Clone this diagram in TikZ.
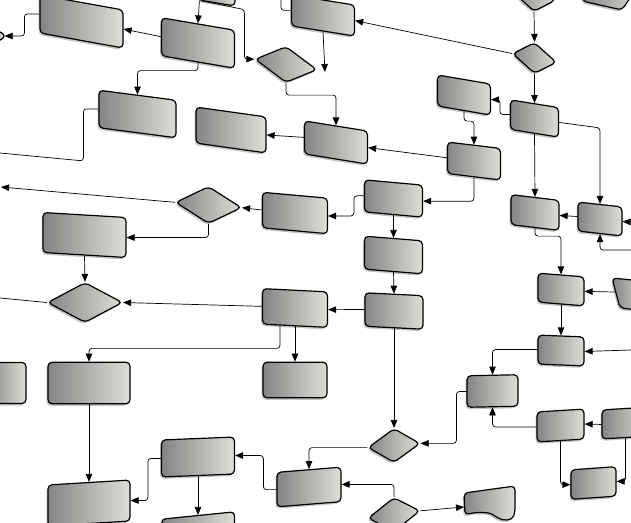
\documentclass[tikz,border=0pt]{standalone}
\usepackage{tikz}
\usetikzlibrary{arrows.meta,shapes.geometric,shadows,calc}
\definecolor{slate}{RGB}{132,133,131}
\definecolor{silver}{RGB}{222,222,216}

\tikzset{
  blk/.style={draw=black, line width=1.2pt, rounded corners=4pt, inner sep=0pt,
              left color=slate, right color=silver,
              drop shadow={shadow xshift=-1.5pt, shadow yshift=-2pt, opacity=0.45}},
  dcs/.style={blk, diamond},
  flow/.style={line width=0.7pt, rounded corners=3pt, -{Triangle[length=8pt,width=6.5pt]}},
  wire/.style={line width=0.7pt, rounded corners=3pt}
}

\begin{document}
\begin{tikzpicture}[x=1pt,y=-1pt]
\useasboundingbox (0,0) rectangle (631,522);
\clip (0,0) rectangle (631,522);
\fill[white] (0,0) rectangle (631,522);

% top rows
\node[blk, minimum width=36pt, minimum height=30pt,   yslant=-.16] (A0) at (217,-12)    {};
\node[blk, minimum width=83pt, minimum height=38pt,   yslant=-.18] (A1) at (81.5,21.5)  {};
\node[blk, minimum width=73pt, minimum height=38pt,   yslant=-.17] (A2) at (198,43)     {};
\node[blk, minimum width=63pt, minimum height=31pt,   yslant=-.16] (C1) at (323,15.5)   {};
\node[dcs, minimum width=43pt, minimum height=31pt,   yslant=-.20] (D0) at (534,-4)     {};
\node[dcs, minimum width=62pt, minimum height=36pt,   yslant=-.17] (D1) at (286,64.5)   {};
\node[dcs, minimum width=44pt, minimum height=31pt,   yslant=-.20] (D2) at (534.5,58)   {};
\node[blk, ellipse, minimum width=20pt, minimum height=10pt]       (T0) at (-6,36)      {};
\path[blk] (592,-30) -- (642,-20) -- (622,10) -- (582,1) -- cycle;

\node[blk, minimum width=77pt, minimum height=37.5pt, yslant=-.13] (B1) at (137.5,114)  {};
\node[blk, minimum width=70pt, minimum height=36pt,   yslant=-.14] (B2) at (231,130)    {};
\node[blk, minimum width=63pt, minimum height=33pt,   yslant=-.16] (B3) at (336,142.5)  {};
\node[blk, minimum width=53pt, minimum height=31pt,   yslant=-.17] (F0) at (464,95)     {};
\node[blk, minimum width=48pt, minimum height=29.5pt, yslant=-.16] (F1) at (534.5,118.5) {};
\node[blk, minimum width=53pt, minimum height=31.5pt, yslant=-.12] (G1) at (474,161)    {};

% middle rows
\node[blk, minimum width=58pt, minimum height=32pt,   yslant=-.09] (H1) at (393.5,198.5) {};
\node[blk, minimum width=65pt, minimum height=35.5pt, yslant=-.09] (H0) at (295,213)    {};
\node[dcs, minimum width=66pt, minimum height=37pt,   yslant=-.08] (D3) at (208.5,205)  {};
\node[blk, minimum width=83pt, minimum height=40pt,   yslant=-.06] (I1) at (84.5,235)   {};
\node[blk, minimum width=48pt, minimum height=30pt,   yslant=-.12] (S1) at (535,212.5)  {};
\node[blk, minimum width=44pt, minimum height=29pt,   yslant=-.11] (S2) at (600,219)    {};
\node[blk, minimum width=58pt, minimum height=33pt,   yslant=-.08] (K0) at (393.5,255)  {};
\node[blk, minimum width=46pt, minimum height=29pt,   yslant=-.08] (T1) at (561,289.5)  {};
\path[blk] (612,278) -- (642,281) -- (648,311) -- (620,308) -- cycle;
\coordinate (U1w) at (615,292);
\node[dcs, minimum width=75pt, minimum height=40pt]                (D4) at (85,302.5)   {};
\node[blk, minimum width=65pt, minimum height=35.5pt, yslant=-.05] (J1) at (295,308)    {};
\node[blk, minimum width=58pt, minimum height=33.5pt, yslant=-.05] (K1) at (394,311)    {};
\node[blk, minimum width=46pt, minimum height=29pt,   yslant=-.04] (V1) at (561,350.5)  {};

% lower rows
\node[blk, minimum width=40pt, minimum height=41pt]                (L0) at (6,383)      {};
\node[blk, minimum width=82pt, minimum height=41.5pt]              (L1) at (89,383)     {};
\node[blk, minimum width=64pt, minimum height=35.5pt]              (J2) at (295,380)    {};
\node[blk, minimum width=51pt, minimum height=31.5pt, yslant=.02]  (Q1) at (492.5,391)  {};
\node[blk, minimum width=47pt, minimum height=30pt,   yslant=.06]  (W1) at (560.5,425.5) {};
\node[blk, minimum width=47pt, minimum height=29pt,   yslant=.06]  (W2) at (625.5,423)  {};
\node[dcs, minimum width=52pt, minimum height=34pt,   yslant=.08]  (D5) at (394,445.5)  {};
\node[blk, minimum width=73pt, minimum height=37pt,   yslant=.04]  (N1) at (198,457)    {};
\node[blk, minimum width=64pt, minimum height=34.5pt, yslant=.08]  (P1) at (309,487)    {};
\node[blk, minimum width=45pt, minimum height=29.5pt, yslant=.07]  (X1) at (593.5,483)  {};
\node[blk, minimum width=82pt, minimum height=41pt,   yslant=.06]  (M1) at (89,503)     {};
\node[blk, minimum width=73pt, minimum height=37pt,   yslant=.10]  (N2) at (198,534)    {};
\node[dcs, minimum width=52pt, minimum height=34pt,   yslant=.14]  (D6) at (394,514.5)  {};
\path[blk] (464,493) -- (515,486) -- (515,512) .. controls (512,521) and (503,521) .. (495,516)
           .. controls (488,512) and (475,512) .. (465,515) -- cycle;
\coordinate (R1w) at (464,507);

% loose ends
\coordinate (offB)  at (0,153);
\coordinate (offD3) at (1,187);
\coordinate (offD4) at (0,298);
\coordinate (offS2) at (631,222);
\coordinate (offS2b) at (631,250);
\coordinate (offV1) at (631,350);
\coordinate (C1end) at (325,72);
\coordinate (C1top) at (281,-2);

% connectors
\draw[flow] (A1.west) -- ++(-15,0) |- (T0.east);
\draw[flow] (A2.west) -- (A1.east);
\draw[flow] ([xshift=1pt]A0.south west) -- (A2.north);
\draw[flow] ([xshift=2pt]A0.south west) -- ++(44,9) |- (D1.west);
\draw[flow] (A2.south) -- ++(0,8) -| (B1.north);
\draw[wire] (B1.west) -- ++(-15,0) -- ++(0,52) -- (offB);
\draw[wire] (C1top) |- (C1.west);
\draw[flow] (C1.south) -- (C1end);
\draw[flow] (D1.south) -- ++(0,12) -| (B3.north);
\draw[flow] (B3.west) -- (B2.east);
\draw[flow] (D0.south) -- (D2.north);
\draw[flow] (D2.west) -- (C1.east);
\draw[flow] (D2.south) -- (F1.north);
\draw[flow] (F1.west) -- ++(-10,0) |- (F0.east);
\draw[flow] (F0.south) -- ++(0,10) -| (G1.north);
\draw[flow] (G1.west) -- (B3.east);
\draw[flow] (G1.south) |- (H1.east);
\draw[flow] (H1.west) -- ++(-10,0) |- (H0.east);
\draw[flow] (H0.west) -- (D3.east);
\draw[flow] (D3.west) -- (offD3);
\draw[flow] (D3.south) |- (I1.east);
\draw[flow] (I1.south) -- (D4.north);
\draw[wire] (D4.west) -- (offD4);
\draw[flow] (J1.west) -- (D4.east);
\draw[flow] ([xshift=-15pt]J1.south) -- ++(0,22) -| (L1.north);
\draw[flow] (J1.south) -- (J2.north);
\draw[flow] (K1.west) -- (J1.east);
\draw[flow] (H1.south) -- (K0.north);
\draw[flow] (K0.south) -- (K1.north);
\draw[flow] (K1.south) -- (D5.north);
\draw[flow] (L1.south) -- (M1.north);
\draw[flow] (N1.west) -- ++(-13,0) |- (M1.east);
\draw[flow] (N1.south) -- (N2.north);
\draw[flow] (P1.west) -- ++(-13,0) |- (N1.east);
\draw[flow] (D5.west) -| (P1.north);
\draw[flow] (Q1.west) -- ++(-10,0) |- (D5.east);
\draw[flow] (D6.north) |- (P1.east);
\draw[flow] (D6.east) -- (R1w);
\draw[flow] (F1.south) -- (S1.north);
\draw[flow] (F1.east) -- ($(S2.north)+(0,-76)$) -- (S2.north);
\draw[flow] (S2.west) -- (S1.east);
\draw[flow] (offS2) -- (S2.east);
\draw[flow] (offS2b) -| (S2.south);
\draw[flow] (S1.south) -- ++(0,8) -| (T1.north);
\draw[flow] (U1w) -- (T1.east);
\draw[flow] (T1.south) -- (V1.north);
\draw[flow] (offV1) -- (V1.east);
\draw[flow] (V1.west) -| (Q1.north);
\draw[flow] (W1.west) -| (Q1.south);
\draw[flow] (W2.west) -- (W1.east);
\draw[flow] (W1.south) |- (X1.west);
\draw[flow] (W2.south) |- (X1.east);
\end{tikzpicture}
\end{document}
